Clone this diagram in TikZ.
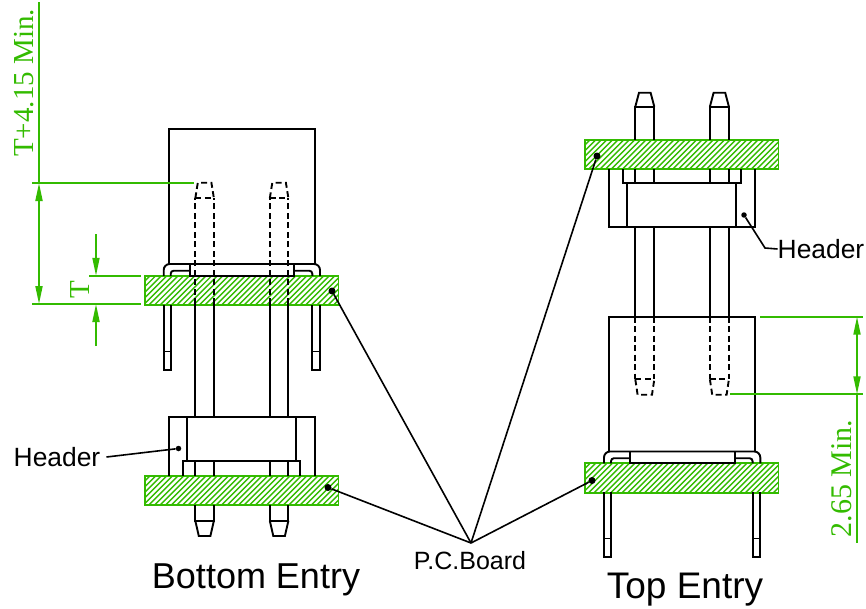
\documentclass[tikz,border=0pt]{standalone}
\usepackage{fontspec}
\setmainfont{Liberation Serif}
\newfontfamily\sansfont{Liberation Sans}
\usetikzlibrary{arrows.meta,positioning}
\definecolor{mygreen}{RGB}{51,187,0}
\tikzset{
  part/.style={line width=1.9pt,black},
  hidden/.style={part,dash pattern=on 6pt off 3.5pt},
  dimline/.style={line width=1.8pt,mygreen},
  dimarrow/.style={dimline,-{Triangle[length=18pt,width=7pt]}},
  leader/.style={line width=1.6pt,black},
  dot/.style={circle,fill=black,inner sep=0pt,minimum size=7pt},
  dimtext/.style={mygreen,rotate=90,inner sep=0pt,font=\fontsize{29}{30}\selectfont},
  pcboard/.style={draw=mygreen,line width=1.8pt,anchor=north west,inner sep=0pt,outer sep=0pt,
    minimum width=193.5pt,minimum height=29.5pt,
    path picture={\foreach \d in {-30,-24.4,...,200}
      \draw[mygreen,line width=1.4pt] ([xshift=\d pt]path picture bounding box.south west) -- ++(32,-32);}},
}
% hooks and legs of one header, drawn at the bottom entry position
\newcommand{\hookset}{
  \draw[part,rounded corners=6pt] (163.7,275.8) -- (163.7,264) -- (320,264) -- (320,275.8);
  \draw[part,rounded corners=3pt] (170.7,275.8) -- (170.7,270.7) -- (189.8,270.7);
  \draw[part,rounded corners=3pt] (294.3,270.7) -- (312.3,270.7) -- (312.3,275.8);
  \draw[part] (189.8,264) rectangle (294.3,275.8);
  \foreach \q in {163.7,312.3} {
    \draw[part] (\q,304.8) -- (\q,369.8) -- (\q+7.4,369.8) -- (\q+7.4,304.8);
    \draw[line width=0.8pt,black] (\q,351) -- (\q+7.4,351);
  }
}
\begin{document}
\begin{tikzpicture}[x=1pt,y=-1pt]
\useasboundingbox (0,0) rectangle (866,608);
% boards
\node[pcboard] (boardA) at (145,275.8) {};
\node[pcboard] (boardB) at (145,475.8) {};
\node[pcboard] (boardC) at (585,139.8) {};
\node[pcboard] (boardD) at (585,463.2) {};
% bottom entry
\draw[part] (168.8,264) -- (168.8,129) -- (315,129) -- (315,264);
\hookset
\draw[part] (168.8,475.8) -- (168.8,416.7) -- (315,416.7) -- (315,475.8);
\draw[part] (187.3,416.7) -- (187.3,461) (296,416.7) -- (296,461);
\draw[part] (183,475.8) -- (183,461) -- (300.3,461) -- (300.3,475.8);
\foreach \p in {195.3,269.8} {
  \draw[hidden] (\p,304) -- (\p,198.3) (\p+18.6,304) -- (\p+18.6,198.3);
  \draw[hidden] (\p,198.3) -- (\p+18.6,198.3);
  \draw[hidden] (\p,198.3) -- (\p+2.5,182.7) -- (\p+16.1,182.7) -- (\p+18.6,198.3);
  \draw[part] (\p,304) -- (\p,416.7) (\p+18.6,304) -- (\p+18.6,416.7);
  \draw[part] (\p,461) -- (\p,475.8) (\p+18.6,461) -- (\p+18.6,475.8);
  \draw[part] (\p,505.3) -- (\p,520.7) -- (\p+18.6,520.7) -- (\p+18.6,505.3);
  \draw[part] (\p,520.7) -- (\p+3.5,536) -- (\p+15.1,536) -- (\p+18.6,520.7);
}
% top entry
\draw[part] (609,169) -- (609,226.7) -- (755.3,226.7) -- (755.3,169);
\draw[part] (627.3,183.3) -- (627.3,226.7) (736.3,183.3) -- (736.3,226.7);
\draw[part] (623.3,169) -- (623.3,183.3) -- (741,183.3) -- (741,169);
\draw[part] (609,451) -- (609,316.7) -- (755.3,316.7) -- (755.3,451);
\begin{scope}[shift={(440.3,187.5)}]
\hookset
\end{scope}
\foreach \p in {635.3,709.9} {
  \draw[part] (\p,139.8) -- (\p,106.7) -- (\p+19,106.7) -- (\p+19,139.8);
  \draw[part] (\p,106.7) -- (\p+3.7,92.7) -- (\p+15.3,92.7) -- (\p+19,106.7);
  \draw[part] (\p,169) -- (\p,183.3) (\p+19,169) -- (\p+19,183.3);
  \draw[part] (\p,226.7) -- (\p,316.7) (\p+19,226.7) -- (\p+19,316.7);
  \draw[hidden] (\p,316.7) -- (\p,379.3) (\p+19,316.7) -- (\p+19,379.3);
  \draw[hidden] (\p,379.3) -- (\p+19,379.3);
  \draw[hidden] (\p,379.3) -- (\p+2.3,394.7) -- (\p+16.7,394.7) -- (\p+19,379.3);
}
% dimensions, bottom entry
\coordinate (tiptop) at (39,183);
\coordinate (boardlow) at (39,304);
\coordinate (dimend) at (39,2);
\draw[dimline] (32,183) -- (193.5,183);
\draw[dimline] (32,304) -- (141,304);
\draw[dimline] (89,275.8) -- (141,275.8);
\draw[dimline] (dimend) -- (tiptop);
\draw[dimarrow,{Triangle[length=18pt,width=7pt]}-{Triangle[length=18pt,width=7pt]}] (tiptop) -- (boardlow);
\coordinate (tupper) at (96,275.8);
\coordinate (tlower) at (96,304);
\coordinate (tupperend) at (96,234);
\coordinate (tlowerend) at (96,346);
\draw[dimarrow] (tupperend) -- (tupper);
\draw[dimarrow] (tlowerend) -- (tlower);
\node[dimtext,anchor=base west] (dimA) at (33,157) {T+4.15 Min.};
\node[dimtext,anchor=base] (dimT) at (89.5,290) {T};
% dimensions, top entry
\coordinate (boxtop) at (857,316.7);
\coordinate (tiplow) at (857,394.3);
\coordinate (dimlow) at (857,542.7);
\draw[dimline] (760.3,316.7) -- (863.3,316.7);
\draw[dimline] (730,394.3) -- (863.3,394.3);
\draw[dimline] (tiplow) -- (dimlow);
\draw[dimarrow,{Triangle[length=18pt,width=7pt]}-{Triangle[length=18pt,width=7pt]}] (boxtop) -- (tiplow);
\node[dimtext,anchor=base west,font=\fontsize{30}{30}\selectfont] (dimB) at (851.5,537.5) {2.65 Min.};
% labels and leaders
\node[font=\sansfont\fontsize{26.4}{26}\selectfont,inner sep=0pt] (headerL) at (57,457) {Header};
\node[font=\sansfont\fontsize{26.4}{26}\selectfont,inner sep=0pt] (headerR) at (821,249) {Header};
\node[font=\sansfont\fontsize{25}{26}\selectfont,inner sep=0pt] (pcbtext) at (470,561) {P.C.Board};
\node[font=\sansfont\fontsize{36}{36}\selectfont,inner sep=0pt] (bottomtext) at (256,580) {Bottom Entry};
\node[font=\sansfont\fontsize{37}{36}\selectfont,inner sep=0pt] (toptext) at (685,590) {Top Entry};
\node[dot] (dotA) at (332,291) {};
\node[dot] (dotB) at (328,487.5) {};
\node[dot] (dotC) at (597,156) {};
\node[dot] (dotD) at (592,480.5) {};
\node[dot,minimum size=5.5pt] (dotL) at (178.5,448.5) {};
\node[dot,minimum size=5.5pt] (dotR) at (744,215) {};
\coordinate (apex) at (471,543);
\coordinate (bendR) at (765,248);
\foreach \t in {dotA,dotB,dotC,dotD}
  \draw[leader] (apex) -- (\t);
\draw[leader] (headerL.east) ++(6,0) -- (dotL);
\draw[leader] (dotR) -- (bendR) -- (headerR.west);
\end{tikzpicture}
\end{document}
